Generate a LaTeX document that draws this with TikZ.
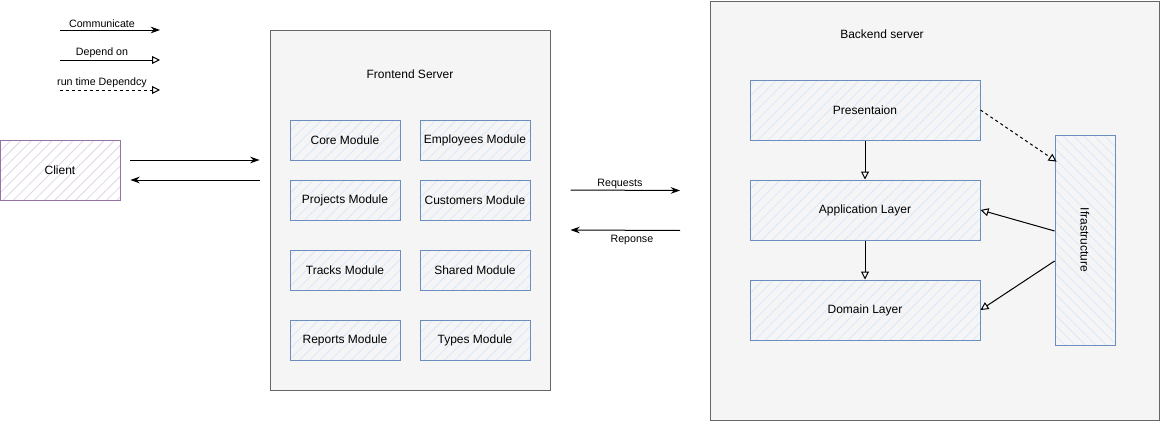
\documentclass[tikz,border=0pt]{standalone}
\usepackage{fontspec}
\setmainfont{Liberation Sans}
\usetikzlibrary{calc,arrows.meta,patterns.meta}

\definecolor{grayfill}{HTML}{F5F5F5}
\definecolor{grayline}{HTML}{666666}
\definecolor{bluefill}{HTML}{DAE8FC}
\definecolor{blueline}{HTML}{6C8EBF}
\definecolor{purplefill}{HTML}{E1D5E7}
\definecolor{purpleline}{HTML}{9673A6}

\begin{document}
\begin{tikzpicture}[x=0.75pt,y=-0.75pt,font=\fontsize{9}{11}\selectfont,
  server/.style={draw=grayline,fill=grayfill,line width=0.75pt,inner sep=0pt},
  module/.style={draw=blueline,line width=0.75pt,inner sep=0pt,
    pattern={Lines[angle=45,distance=5.5pt,line width=0.6pt]},pattern color=bluefill,
    minimum width=82.5pt,minimum height=30pt},
  layer/.style={module,minimum width=172.5pt,minimum height=45pt},
  talk/.style={-{Stealth[length=7pt,width=5pt]},line width=0.75pt},
  uses/.style={-{Triangle[open,fill=white,length=6pt,width=6pt]},line width=0.75pt},
  small/.style={font=\fontsize{8}{10}\selectfont,inner sep=1.5pt}]
\useasboundingbox (0,0) rectangle (1161,421);

% Legend
\coordinate (comm_start) at (60,30);
\coordinate (comm_end) at (160,30);
\draw[talk] (comm_start) -- node[above,small,xshift=-6pt] {Communicate} (comm_end);
\coordinate (dep_start) at (60,60);
\coordinate (dep_end) at (160,60);
\draw[uses] (dep_start) -- node[above,small,xshift=-6pt] {Depend on} (dep_end);
\coordinate (run_start) at (60,90);
\coordinate (run_end) at (160,90);
\draw[uses,dash pattern=on 2.25pt off 2.25pt] (run_start) -- node[above,small,xshift=-6pt] {run time Dependcy} (run_end);

% Client
\node[draw=purpleline,line width=0.75pt,preaction={fill=white},
  pattern={Lines[angle=45,distance=5.5pt,line width=0.6pt]},pattern color=purplefill,
  minimum width=90pt,minimum height=45pt] (client) at (60,170) {Client};

% Frontend and its modules
\node[server,minimum width=210pt,minimum height=270pt] (frontend) at (410,210) {};
\node (frontend_title) at (410,74) {Frontend Server};
\node[module] (core) at (345,140) {Core Module};
\node[module] (employees) at (475,140) {Employees Module};
\node[module] (projects) at (345,200) {Projects Module};
\node[module] (customers) at (475,200) {Customers Module};
\node[module] (tracks) at (345,270) {Tracks Module};
\node[module] (shared) at (475,270) {Shared Module};
\node[module] (reports) at (345,340) {Reports Module};
\node[module] (types) at (475,340) {Types Module};

% Backend and its layers
\node[server,minimum width=336.75pt,minimum height=314.25pt] (backend) at (935,210.5) {};
\node (backend_title) at (882,34) {Backend server};
\node[layer] (pres) at (865,110) {Presentaion};
\node[layer] (app) at (865,210) {Application Layer};
\node[layer] (domain) at (865,310) {Domain Layer};
\node[module,minimum width=45pt,minimum height=157.5pt,
  pattern={Lines[angle=-45,distance=5.5pt,line width=0.6pt]},
  label={[rotate=-90]center:Ifrastructure}] (infra) at (1085,240) {};

% Client <-> frontend
\draw[talk] ($(client.east)+(10,-10)$) -- ($(frontend.west)+(-10,-50)$);
\draw[talk] ($(frontend.west)+(-10,-30)$) -- ($(client.east)+(10,10)$);

% Frontend <-> backend
\draw[talk] ($(frontend.east)+(20,-20)$) -- node[above,small,inner sep=0.5pt,xshift=-4pt] {Requests} ($(backend.west)+(-30,-20)$);
\draw[talk] ($(backend.west)+(-30,20)$) -- node[below,small,inner sep=3pt,xshift=5pt] {Reponse} ($(frontend.east)+(20,20)$);

% Layer dependencies
\draw[uses] (pres) -- (app);
\draw[uses] (app) -- (domain);
\draw[uses,dash pattern=on 2.25pt off 2.25pt] (pres.east) -- ($(infra.north west)+(2,27)$);
\draw[uses] ($(infra.west)+(0,-9)$) -- (app.east);
\draw[uses] ($(infra.west)+(0,21)$) -- (domain.east);
\end{tikzpicture}
\end{document}
